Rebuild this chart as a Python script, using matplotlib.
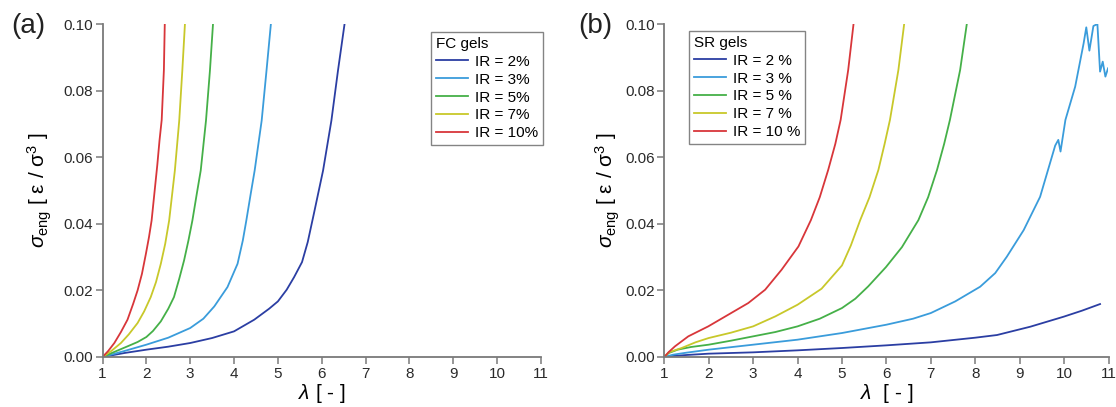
import matplotlib
matplotlib.use("Agg")
import matplotlib.pyplot as plt

plt.rcParams["font.family"] = ["Liberation Sans", "DejaVu Sans"]
plt.rcParams["mathtext.fontset"] = "custom"
plt.rcParams["mathtext.rm"] = "Liberation Sans"
plt.rcParams["mathtext.it"] = "Liberation Sans:italic"

# --- dati (lambda, sigma_eng) ---
fc_labels = ["IR = 2%", "IR = 3%", "IR = 5%", "IR = 7%", "IR = 10%"]
sr_labels = ["IR = 2 %", "IR = 3 %", "IR = 5 %", "IR = 7 %", "IR = 10 %"]
colors = ["#2b3ea3", "#3a9cdb", "#45b048", "#c8c82a", "#d8363a"]

fc2_x = [1, 1.5, 2, 2.5, 3, 3.5, 4, 4.46, 4.8, 5, 5.2, 5.37, 5.55, 5.68, 5.82, 6.03, 6.22, 6.37, 6.52]
fc2_y = [0, 0.0012, 0.0022, 0.0031, 0.0042, 0.0057, 0.0077, 0.0112, 0.0145, 0.0167, 0.0202,
         0.024, 0.0285, 0.0345, 0.043, 0.056, 0.071, 0.086, 0.1]
fc3_x = [1, 1.5, 2, 2.5, 3, 3.3, 3.55, 3.85, 4.08, 4.2, 4.28, 4.38, 4.47, 4.63, 4.74, 4.84]
fc3_y = [0, 0.0018, 0.0037, 0.0058, 0.0087, 0.0115, 0.0152, 0.021, 0.028, 0.035, 0.041,
         0.049, 0.056, 0.071, 0.086, 0.1]
fc5_x = [1, 1.3, 1.57, 1.8, 2, 2.15, 2.33, 2.5, 2.63, 2.75, 2.86, 2.96, 3.05, 3.15, 3.24, 3.36, 3.45, 3.52]
fc5_y = [0, 0.0017, 0.0032, 0.0045, 0.006, 0.0078, 0.0107, 0.0145, 0.018, 0.0235, 0.029,
         0.035, 0.041, 0.049, 0.056, 0.071, 0.086, 0.1]
fc7_x = [1, 1.2, 1.42, 1.6, 1.8, 1.95, 2.1, 2.22, 2.33, 2.43, 2.52, 2.65, 2.75, 2.82, 2.88]
fc7_y = [0, 0.0018, 0.0042, 0.0068, 0.0102, 0.0137, 0.018, 0.0225, 0.028, 0.034, 0.041,
         0.056, 0.071, 0.086, 0.1]
fc10_x = [1, 1.13, 1.27, 1.42, 1.57, 1.7, 1.8, 1.9, 1.99, 2.06, 2.12, 2.19, 2.25, 2.30, 2.35, 2.40, 2.42]
fc10_y = [0, 0.0018, 0.0042, 0.0075, 0.0112, 0.016, 0.020, 0.025, 0.031, 0.036, 0.041,
          0.05, 0.0577, 0.065, 0.0712, 0.0862, 0.1]

sr2_x = [1, 1.2, 1.5, 2, 3, 4, 5, 6, 7, 7.5, 8, 8.49, 9.24, 9.99, 10.4, 10.81]
sr2_y = [0, 0.0003, 0.0006, 0.001, 0.0014, 0.002, 0.0027, 0.0035, 0.0044, 0.0051, 0.0058,
         0.0066, 0.0091, 0.0121, 0.0139, 0.0159]
sr3_x = [1, 1.2, 1.5, 2, 3, 4, 5, 6, 6.6, 7, 7.55, 8.11, 8.45, 8.71, 9.09, 9.46, 9.80, 9.87, 9.92,
         10.03, 10.25, 10.44, 10.5, 10.57, 10.66, 10.75, 10.81, 10.87, 10.93, 10.99]
sr3_y = [0, 0.0007, 0.0013, 0.0022, 0.0037, 0.0052, 0.0072, 0.0097, 0.0115, 0.0132, 0.0167,
         0.0211, 0.0252, 0.0301, 0.0381, 0.0481, 0.0635, 0.0652, 0.0617, 0.0712, 0.0812,
         0.0942, 0.099, 0.092, 0.0994, 0.1, 0.0857, 0.0887, 0.0842, 0.0867]
sr5_x = [1, 1.1, 1.3, 1.6, 2, 2.5, 3, 3.5, 4, 4.5, 5, 5.3, 5.59, 5.99, 6.35, 6.72, 6.94, 7.14,
         7.3, 7.43, 7.66, 7.81]
sr5_y = [0, 0.0012, 0.0022, 0.003, 0.0037, 0.0049, 0.0062, 0.0075, 0.0092, 0.0115, 0.0147,
         0.0175, 0.0212, 0.027, 0.033, 0.0411, 0.048, 0.0562, 0.064, 0.0712, 0.0862, 0.1]
sr7_x = [1, 1.1, 1.39, 1.7, 2, 2.5, 3, 3.5, 4, 4.54, 5, 5.2, 5.41, 5.62, 5.82, 5.96, 6.08, 6.27, 6.40]
sr7_y = [0, 0.0014, 0.0027, 0.0044, 0.0057, 0.0073, 0.0092, 0.0122, 0.0157, 0.0205, 0.0275,
         0.0335, 0.0411, 0.048, 0.0562, 0.064, 0.0712, 0.0862, 0.1]
sr10_x = [1, 1.1, 1.24, 1.54, 1.99, 2.44, 2.89, 3.27, 3.64, 4.02, 4.3, 4.5, 4.69, 4.85,
          4.97, 5.14, 5.26]
sr10_y = [0, 0.0015, 0.0032, 0.0062, 0.0092, 0.0127, 0.0162, 0.0202, 0.0262, 0.0332, 0.0411,
          0.048, 0.0562, 0.064, 0.0712, 0.0862, 0.1]

fc_series = [(fc2_x, fc2_y), (fc3_x, fc3_y), (fc5_x, fc5_y), (fc7_x, fc7_y), (fc10_x, fc10_y)]
sr_series = [(sr2_x, sr2_y), (sr3_x, sr3_y), (sr5_x, sr5_y), (sr7_x, sr7_y), (sr10_x, sr10_y)]

xticks = list(range(1, 12))
yticks = [0.00, 0.02, 0.04, 0.06, 0.08, 0.10]

W, H = 1116, 407
fig = plt.figure(figsize=(W / 100, H / 100), dpi=100)


def pannello(rect, series, labels, titolo, lettera, lettera_pos, leg_pos, ylab_x, xlab):
    l, t, r, b = rect
    ax = fig.add_axes([l / W, 1 - b / H, (r - l) / W, (b - t) / H])
    for (xs, ys), lab, c in zip(series, labels, colors):
        ax.plot(xs, ys, color=c, lw=1.3, label=lab)
    ax.set_xlim(1, 11)
    ax.set_ylim(0, 0.1)
    ax.set_xticks(xticks)
    ax.set_yticks(yticks)
    ax.set_yticklabels([f"{v:.2f}" for v in yticks])
    for s in ("top", "right"):
        ax.spines[s].set_visible(False)
    for s in ("left", "bottom"):
        ax.spines[s].set_color("#7a7a7a")
        ax.spines[s].set_linewidth(1.3)
    ax.tick_params(direction="out", length=5, width=1.1, color="#7a7a7a",
                   labelsize=11, labelcolor="#2a2a2a", pad=2)
    ax.set_xlabel(xlab, fontsize=15, labelpad=1)
    fig.text(ylab_x / W, 1 - 190 / H,
             r"$\sigma_{\mathrm{eng}}$ [ $\mathrm{\epsilon}$ / $\mathrm{\sigma}^{3}$ ]",
             rotation=90, fontsize=15, ha="center", va="center")
    fig.text(lettera_pos[0] / W, 1 - lettera_pos[1] / H, lettera, fontsize=20,
             ha="center", va="center", color="#222222")
    leg = ax.legend(loc="upper left", bbox_to_anchor=(leg_pos[0] / W, 1 - leg_pos[1] / H),
                    bbox_transform=fig.transFigure, title=titolo, fontsize=11,
                    title_fontsize=11, alignment="left", frameon=True, fancybox=False,
                    borderpad=0.3, borderaxespad=0, handlelength=2.1,
                    handletextpad=0.5, labelspacing=0.26)
    leg.get_frame().set_edgecolor("#666666")
    leg.get_frame().set_linewidth(1.0)
    return ax


pannello((102.5, 24, 541, 357), fc_series, fc_labels, "FC gels", "(a)", (28, 26),
         (431, 32), 40, r"$\lambda$ [ - ]")
pannello((664.3, 24, 1108.5, 357), sr_series, sr_labels, "SR gels", "(b)", (595, 26),
         (689, 31), 608, r"$\lambda$  [ - ]")

fig.savefig("out.png", dpi=100)
